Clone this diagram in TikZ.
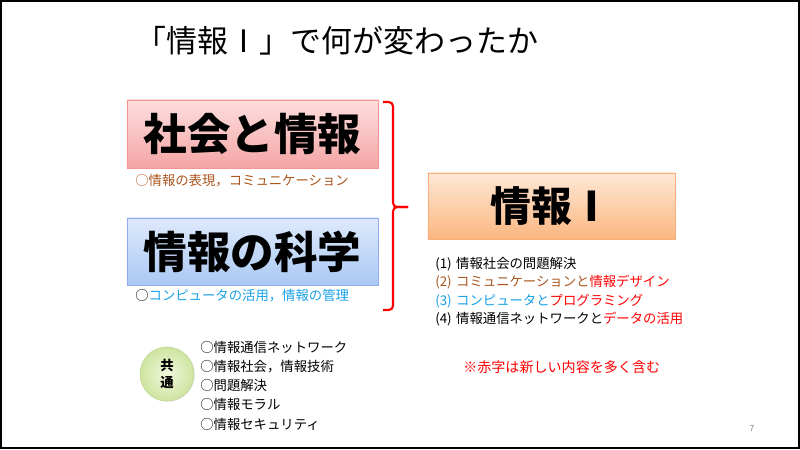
\documentclass[tikz,border=0pt]{standalone}
\usepackage{fontspec}
\setmainfont{Noto Sans CJK JP}
\usetikzlibrary{positioning,chains,shadows}
\definecolor{mybrown}{RGB}{170,85,30}
\definecolor{mycyan}{RGB}{25,160,230}
\definecolor{myred}{RGB}{255,0,0}
\definecolor{pinktop}{RGB}{253,222,222}
\definecolor{pinkbot}{RGB}{245,165,165}
\definecolor{bluetop}{RGB}{222,234,252}
\definecolor{bluebot}{RGB}{170,200,243}
\definecolor{orangetop}{RGB}{254,232,214}
\definecolor{orangebot}{RGB}{251,182,128}

\begin{document}
\begin{tikzpicture}[x=0.025cm,y=-0.025cm,
  bigbox/.style={minimum width=6.275cm,minimum height=1.7cm,inner sep=0pt,
    font=\fontsize{31}{36}\selectfont\bfseries,
    drop shadow={opacity=.25,shadow xshift=.7pt,shadow yshift=-.7pt}},
  itemnode/.style={inner sep=0pt,text width=8cm,align=left,
    font=\fontsize{9.5}{11}\selectfont,text height=9.3pt,text depth=3.5pt},
  commonnode/.style={inner sep=0pt,text width=5cm,align=left,
    font=\fontsize{9.5}{11}\selectfont,text height=9.6pt,text depth=3.7pt},
  bracket/.style={myred,line width=1.5pt,rounded corners=3pt}
]
\useasboundingbox (0,0) rectangle (800,449);
\draw[line width=1.1pt] (0.8,0.8) rectangle (799.2,448.2);

% the title
\node[font=\fontsize{22}{26}\selectfont] (title) at (337,41) {「情報Ⅰ」で何が変わったか};

% the old subjects
\node[bigbox,draw=pinkbot!90!red,top color=pinktop,bottom color=pinkbot] (shakai) at (252.5,134) {社会と情報};
\node[bigbox,draw=bluebot!85!blue,top color=bluetop,bottom color=bluebot,minimum height=1.675cm] (kagaku) at (252.5,251.5) {情報の科学};
\node[anchor=west,inner sep=0pt,font=\fontsize{9.5}{11}\selectfont,mybrown] (shakaisub) at (135,181) {○情報の表現，コミュニケーション};
\node[anchor=west,inner sep=0pt,font=\fontsize{9.5}{11}\selectfont] (kagakusub) at (135,296) {○\textcolor{mycyan}{コンピュータの活用，情報の管理}};

% the new subject
\node[bigbox,draw=orangebot!95!red,top color=orangetop,bottom color=orangebot,minimum width=6.175cm,minimum height=1.65cm,font=\fontsize{29}{34}\selectfont\bfseries] (joho) at (551.5,206) {情報Ⅰ};

% the bracket
\coordinate (btop) at (383,102);
\coordinate (bbot) at (383,310);
\coordinate (btip) at (408,207);
\draw[bracket] (btop) -- (393,102) -- (393,207) -- (btip);
\draw[bracket] (btip) -- (393,207) -- (393,310) -- (bbot);

% the contents of the new subject
\begin{scope}[start chain=going below,node distance=0pt]
  \node[itemnode,on chain,anchor=west] (item1) at (435,264) {(1) 情報社会の問題解決};
  \node[itemnode,on chain] (item2) {\textcolor{mybrown}{(2) コミュニケーションと}\textcolor{myred}{情報デザイン}};
  \node[itemnode,on chain] (item3) {\textcolor{mycyan}{(3) コンピュータと}\textcolor{myred}{プログラミング}};
  \node[itemnode,on chain] (item4) {(4) 情報通信ネットワークと\textcolor{myred}{データの活用}};
\end{scope}

% the common contents
\node[circle,minimum size=1.35cm,inner sep=0pt,draw={rgb,255:red,190;green,215;blue,150},
  inner color={rgb,255:red,242;green,248;blue,222},outer color={rgb,255:red,206;green,228;blue,160},
  align=center,font=\fontsize{9.5}{12}\selectfont\bfseries,
  drop shadow={opacity=.2,shadow xshift=.6pt,shadow yshift=-.6pt}] (common) at (167,374) {共\\通};
\begin{scope}[start chain=going below,node distance=0pt]
  \node[commonnode,on chain,anchor=west] (c1) at (200,348) {○情報通信ネットワーク};
  \node[commonnode,on chain] (c2) {○情報社会，情報技術};
  \node[commonnode,on chain] (c3) {○問題解決};
  \node[commonnode,on chain] (c4) {○情報モラル};
  \node[commonnode,on chain] (c5) {○情報セキュリティ};
\end{scope}

% the note
\node[anchor=west,inner sep=0pt,font=\fontsize{10}{12}\selectfont,myred] (note) at (463,367) {※赤字は新しい内容を多く含む};
\node[gray,font=\fontsize{6}{7}\selectfont] (pagenum) at (752,428) {7};
\end{tikzpicture}
\end{document}
